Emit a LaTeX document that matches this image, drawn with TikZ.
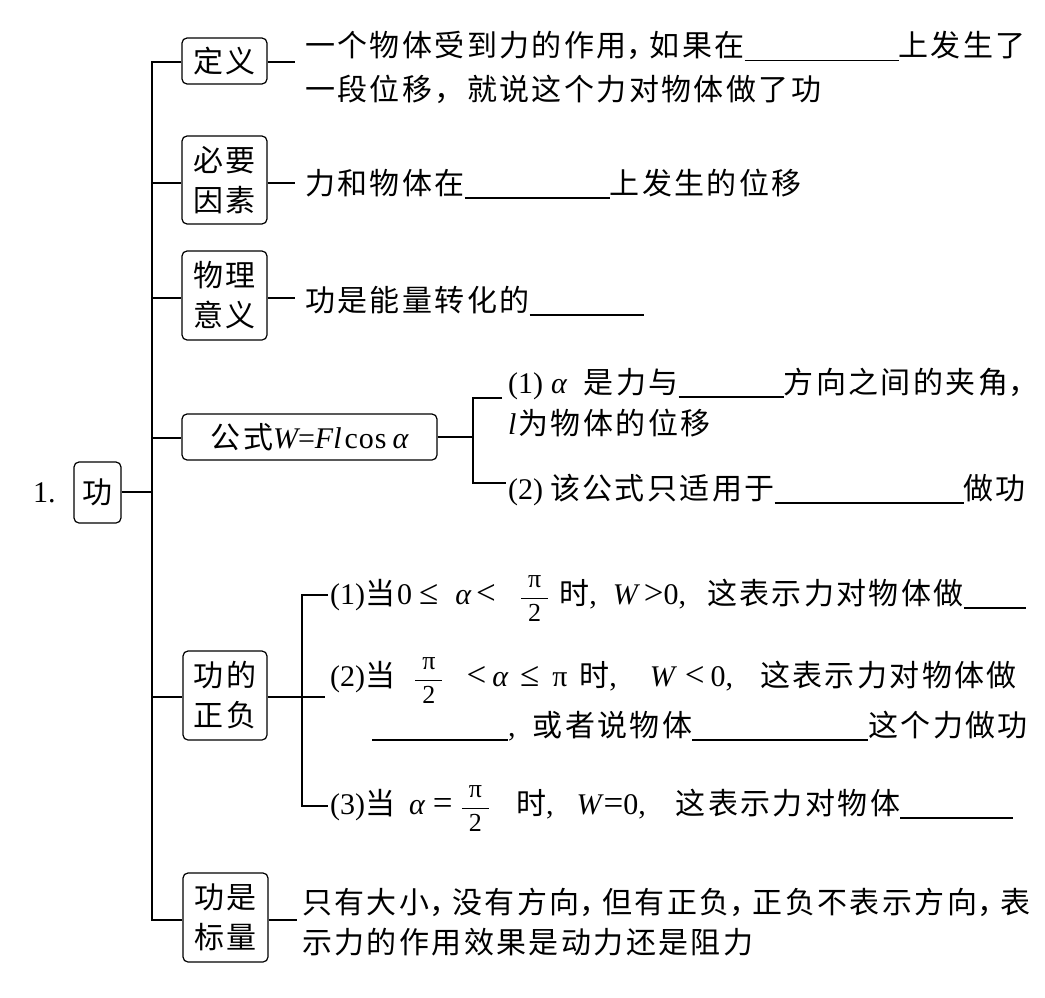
\documentclass[tikz,border=0pt]{standalone}
\usepackage{fontspec}
\setmainfont{Noto Sans CJK SC}[LetterSpace=8]
\newfontfamily\latf{Liberation Serif}
\newcommand\lit[1]{{\latf\itshape #1}}
\newcommand\rel[1]{{\latf\fontsize{35}{35}\selectfont #1}}
\newcommand\blk[1]{\rule[-4.5pt]{#1pt}{1.2pt}}
\newcommand\cma{\makebox[23pt][l]{，}}
\newcommand\fracfont{\fontsize{26}{26}\selectfont\latf}
\newcommand\myfrac{\ensuremath{\displaystyle\frac{\hbox to 27pt{\hss\fracfont π\hss}}{\hbox to 27pt{\hss\fracfont 2\hss}}}}
\begin{document}
\begin{tikzpicture}[x=1pt,y=-1pt,
  every node/.style={inner sep=0pt, font=\fontsize{30}{40}\selectfont},
  box/.style={draw, line width=1.2pt, rounded corners=5pt, align=center},
  txt/.style={anchor=base west},
  ln/.style={line width=1.2pt}]
\useasboundingbox (0,0) rectangle (1045,998);

% root
\node[txt] (num) at (33,502) {\latf 1.};
\node[box, minimum width=47pt, minimum height=61pt] (gong) at (97.5,492.5) {功};

% first-level boxes
\node[box, minimum width=85pt, minimum height=46pt] (dy) at (224.5,61) {定义};
\node[box, minimum width=85pt, minimum height=88pt] (ys) at (224.5,180) {必要\\因素};
\node[box, minimum width=85pt, minimum height=89pt] (yy) at (224.5,295.5) {物理\\意义};
\node[box, minimum width=255pt, minimum height=46pt] (gs) at (309.5,437) {公式\lit{W}{\latf =}\lit{Fl}\hspace{3pt}{\latf c\hspace{1pt}o\hspace{1pt}s}\hspace{6pt}\lit{α}};
\node[box, minimum width=84pt, minimum height=89pt] (zf) at (225,695.5) {功的\\正负};
\node[box, minimum width=85pt, minimum height=89pt] (bl) at (225.5,917.5) {功是\\标量};

% texts
\node[txt] (dy1) at (305,57) {一个物体受到力的作用\cma 如果在\blk{154}上发生了};
\node[txt] (dy2) at (305,100) {一段位移，就说这个力对物体做了功};
\node[txt] (ys1) at (305,194) {力和物体在\blk{145}上发生的位移};
\node[txt] (yy1) at (305,311) {功是能量转化的\blk{114}};

\node[txt] (gs1) at (508,393) {{\latf(1)}\hspace{8pt}\lit{α}\hspace{17pt}是力与\blk{105}方向之间的夹角\cma};
\node[txt] (gs2) at (508,434) {\lit{l}\hspace{2pt}为物体的位移};
\node[txt] (gs3) at (508,499) {{\latf(2)}\hspace{7pt}该公式只适用于\blk{189}做功};

\node[txt] (zf1) at (330,604) {{\latf(1)}当\hspace{2pt}{\latf 0}\hspace{7pt}\rel{≤}\hspace{17pt}\lit{α}\hspace{5pt}\rel{<}\hspace{24pt}\myfrac\hspace{10pt}时{\latf,}\hspace{16pt}\lit{W}\hspace{6pt}\rel{>}{\latf 0,}\hspace{21pt}这表示力对物体做\blk{62}};
\node[txt] (zf2) at (330,686) {{\latf(2)}当\hspace{19pt}\myfrac\hspace{23pt}\rel{<}\hspace{6pt}\lit{α}\hspace{12pt}\rel{≤}\hspace{13pt}{\latf π}\hspace{12pt}时{\latf,}\hspace{33pt}\lit{W}\hspace{10pt}\rel{<}\hspace{6pt}{\latf 0,}\hspace{27pt}这表示力对物体做};
\node[txt] (zf3) at (372,736) {\blk{136}{\latf,}\hspace{17pt}或者说物体\blk{176}这个力做功};
\node[txt] (zf4) at (330,814) {{\latf(3)}当\hspace{14pt}\lit{α}\hspace{8pt}\rel{=}\hspace{8pt}\myfrac\hspace{26pt}时{\latf,}\hspace{23pt}\lit{W}\hspace{2pt}\rel{=}{\latf 0,}\hspace{30pt}这表示力对物体\blk{113}};

\node[txt] (bl1) at (302,913) {只有大小\cma 没有方向\cma 但有正负\cma 正负不表示方向\cma 表};
\node[txt] (bl2) at (302,953) {示力的作用效果是动力还是阻力};

% trunk coordinates
\coordinate (t0) at (152,492);
\coordinate (t1) at (152,62);
\coordinate (t2) at (152,183);
\coordinate (t3) at (152,298);
\coordinate (t4) at (152,438);
\coordinate (t5) at (152,697);
\coordinate (t6) at (152,920);

\draw[ln] (t1 -| dy.west) -- (t1) -- (t6) -- (t6 -| bl.west);
\draw[ln] (t2) -- (t2 -| ys.west);
\draw[ln] (t3) -- (t3 -| yy.west);
\draw[ln] (t4) -- (t4 -| gs.west);
\draw[ln] (t5) -- (t5 -| zf.west);
\draw[ln] (gong.east |- t0) -- (t0);

% right stubs
\coordinate (e1) at (295,62);
\coordinate (e2) at (295,183);
\coordinate (e3) at (295,298);
\coordinate (e6) at (297,920);
\draw[ln] (e1 -| dy.east) -- (e1);
\draw[ln] (e2 -| ys.east) -- (e2);
\draw[ln] (e3 -| yy.east) -- (e3);
\draw[ln] (e6 -| bl.east) -- (e6);

% formula bracket
\coordinate (fb) at (473,437);
\coordinate (fbt) at (473,398);
\coordinate (fbb) at (473,483);
\coordinate (fbt2) at (502,398);
\coordinate (fbb2) at (506,483);
\draw[ln] (fb -| gs.east) -- (fb);
\draw[ln] (fbt2) -- (fbt) -- (fbb) -- (fbb2);

% sign bracket
\coordinate (zb) at (302,697);
\coordinate (zbm) at (325,697);
\coordinate (zbt) at (302,595);
\coordinate (zbb) at (302,806);
\coordinate (zbt2) at (328,595);
\coordinate (zbb2) at (328,806);
\draw[ln] (zb -| zf.east) -- (zbm);
\draw[ln] (zbt2) -- (zbt) -- (zbb) -- (zbb2);
\end{tikzpicture}
\end{document}
